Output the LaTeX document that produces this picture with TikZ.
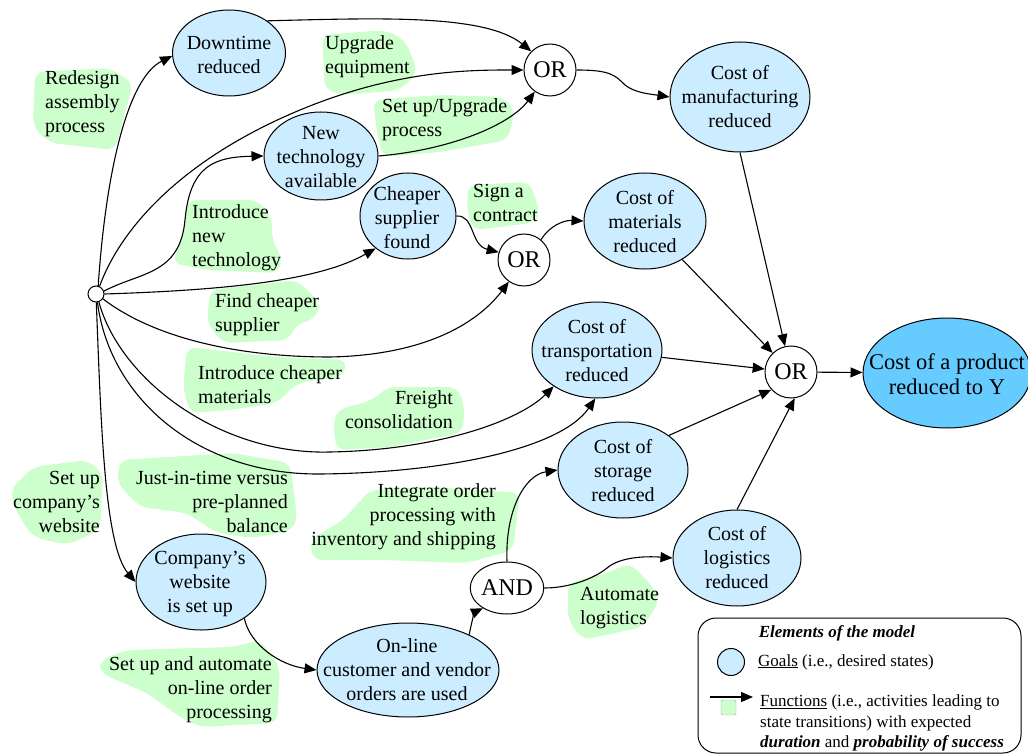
\documentclass[tikz,border=0pt]{standalone}
\usepackage{fontspec}
\setmainfont{Liberation Serif}
\usetikzlibrary{shapes.geometric,arrows.meta}
\definecolor{goalc}{HTML}{CCECFF}
\definecolor{finc}{HTML}{66CCFF}
\definecolor{blobc}{HTML}{CCFFCC}
\begin{document}
\begin{tikzpicture}[x=1pt,y=-1pt,
  goal/.style={ellipse,draw,fill=goalc,line width=1pt,inner sep=0pt},
  gate/.style={ellipse,draw,fill=white,line width=1pt,inner sep=0pt,font=\fontsize{24}{28}\selectfont},
  gt/.style={inner sep=0pt,align=center,font=\fontsize{20}{24}\selectfont},
  lblL/.style={inner sep=0pt,align=left,anchor=west,font=\fontsize{20}{24}\selectfont},
  lblR/.style={inner sep=0pt,align=right,anchor=east,font=\fontsize{20}{24}\selectfont},
  legt/.style={inner sep=0pt,align=left,anchor=west,font=\fontsize{17}{20.5}\selectfont},
  blob/.style={fill=blobc,rounded corners=9pt},
  arr/.style={line width=1.1pt,-{Triangle[length=12pt,width=10pt]}},
  conn/.style={line width=1.1pt},
]
\useasboundingbox (0,0) rectangle (1028,754);

% ---------- green blobs (functions) ----------
\fill[blob] (35,72) -- (110,68) -- (133,83) -- (115,150) -- (50,143) -- (33,127) -- cycle;
\fill[blob] (322,35) -- (385,30) -- (405,40) -- (418,72) -- (400,90) -- (345,95) -- (325,90) -- cycle;
\fill[blob] (373,100) -- (440,95) -- (503,97) -- (515,110) -- (508,140) -- (440,152) -- (383,157) -- (377,133) -- cycle;
\fill[blob] (187,200) -- (257,200) -- (272,217) -- (272,240) -- (283,260) -- (277,273) -- (207,270) -- (172,263) -- (183,237) -- cycle;
\fill[blob] (468,185) -- (530,182) -- (540,213) -- (533,223) -- (473,230) -- (467,210) -- cycle;
\fill[blob] (210,290) -- (297,280) -- (320,303) -- (317,317) -- (293,327) -- (290,340) -- (223,343) -- (207,323) -- cycle;
\fill[blob] (187,347) -- (277,357) -- (347,360) -- (343,377) -- (297,383) -- (277,403) -- (230,410) -- (190,413) -- (183,387) -- cycle;
\fill[blob] (337,410) -- (373,400) -- (387,387) -- (457,387) -- (465,407) -- (462,433) -- (390,447) -- (337,450) -- (333,427) -- cycle;
\fill[blob] (27,473) -- (33,467) -- (87,460) -- (103,473) -- (100,530) -- (67,545) -- (33,537) -- (17,513) -- (10,490) -- cycle;
\fill[blob] (120,460) -- (233,453) -- (290,463) -- (297,517) -- (293,530) -- (253,538) -- (217,533) -- (187,513) -- (140,507) -- (117,483) -- cycle;
\fill[blob] (370,490) -- (433,487) -- (520,493) -- (513,550) -- (467,563) -- (383,560) -- (313,560) -- (310,540) -- (343,520) -- cycle;
\fill[blob] (100,660) -- (127,650) -- (233,647) -- (260,640) -- (280,667) -- (277,723) -- (200,727) -- (180,717) -- (147,693) -- (100,673) -- cycle;
\fill[blob] (568,583) -- (607,573) -- (630,563) -- (653,587) -- (660,600) -- (643,627) -- (583,640) -- (568,620) -- cycle;

% ---------- function labels ----------
\node[lblL] (f1) at (45,104) {Redesign\\assembly\\process};
\node[lblL] (f2) at (325,57) {Upgrade\\equipment};
\node[lblL] (f3) at (382,120) {Set up/Upgrade\\process};
\node[lblL] (f4) at (192,238) {Introduce\\new\\technology};
\node[lblL] (f5) at (473,203) {Sign a\\contract};
\node[lblL] (f6) at (215,315) {Find cheaper\\supplier};
\node[lblL] (f7) at (198,385) {Introduce cheaper\\materials};
\node[lblR] (f8) at (453,410) {Freight\\consolidation};
\node[lblR] (f9) at (100,502) {Set up\\company’s\\website};
\node[lblR] (f10) at (288,502) {Just-in-time versus\\pre-planned\\balance};
\node[lblR] (f11) at (496,517) {Integrate order\\processing with\\inventory and shipping};
\node[lblR] (f12) at (272,690) {Set up and automate\\on-line order\\processing};
\node[lblL] (f13) at (580,608) {Automate\\logistics};

% ---------- goal nodes ----------
\node[circle,draw,fill=white,line width=1pt,minimum size=16pt,inner sep=0pt] (S) at (96,294) {};
\node[goal,minimum width=113pt,minimum height=86pt] (dt) at (229,53) {};
\node[gt] (dt-t) at (229,55) {Downtime\\reduced};
\node[gate,minimum width=52pt,minimum height=52pt] (or1) at (550,70) {OR};
\node[goal,minimum width=140pt,minimum height=110pt] (mfg) at (740,97) {};
\node[gt] (mfg-t) at (740,97) {Cost of\\manufacturing\\reduced};
\node[goal,minimum width=114pt,minimum height=88pt] (nt) at (321,156) {};
\node[gt] (nt-t) at (321,157) {New\\technology\\available};
\node[goal,minimum width=96pt,minimum height=86pt] (cs) at (408,216) {};
\node[gt] (cs-t) at (407,218) {Cheaper\\supplier\\found};
\node[gate,minimum width=52pt,minimum height=52pt] (or2) at (524,260) {OR};
\node[goal,minimum width=122pt,minimum height=96pt] (mat) at (645,221) {};
\node[gt] (mat-t) at (645,222) {Cost of\\materials\\reduced};
\node[goal,minimum width=130pt,minimum height=96pt] (tr) at (597,350) {};
\node[gt] (tr-t) at (597,351) {Cost of\\transportation\\reduced};
\node[gate,minimum width=52pt,minimum height=52pt] (or3) at (791,372) {OR};
\node[ellipse,draw,fill=finc,line width=1pt,inner sep=0pt,minimum width=168pt,minimum height=110pt] (fin) at (947,373) {};
\node[inner sep=0pt,align=center,font=\fontsize{22.5}{25}\selectfont] (fin-t) at (947,374) {Cost of a product\\reduced to Y};
\node[goal,minimum width=130pt,minimum height=96pt] (st) at (623,470) {};
\node[gt] (st-t) at (623,471) {Cost of\\storage\\reduced};
\node[goal,minimum width=128pt,minimum height=96pt] (lg) at (737,558) {};
\node[gt] (lg-t) at (737,558) {Cost of\\logistics\\reduced};
\node[gate,minimum width=70pt,minimum height=52pt] (and) at (507,588) {AND};
\node[goal,minimum width=130pt,minimum height=96pt] (cw) at (201,582) {};
\node[gt] (cw-t) at (200,584) {Company’s\\website\\is set up};
\node[goal,minimum width=182pt,minimum height=94pt] (ol) at (408,670) {};
\node[gt] (ol-t) at (407,670) {On-line\\customer and vendor\\orders are used};

% ---------- connectors ----------
\draw[arr] (S.75) .. controls (106,170) and (128,78) .. (dt.183);
\draw[arr] (dt.40) .. controls (380,18) and (485,14) .. (or1.135);
\draw[arr] (S.65) .. controls (120,230) and (180,160) .. (300,110) .. controls (396,70) and (470,70) .. (or1.180);
\draw[arr] (S.20) .. controls (140,272) and (180,275) .. (185,220) .. controls (190,165) and (215,157) .. (nt.180);
\draw[arr] (nt.east) .. controls (450,150) and (510,125) .. (or1.235);
\draw[arr] (S.0) .. controls (230,290) and (320,280) .. (cs.225);
\draw[arr] (S.-35) .. controls (150,335) and (230,357) .. (330,357) .. controls (430,355) and (480,320) .. (or2.235);
\draw[arr] (cs.0) .. controls (475,215) and (470,245) .. (or2.163);
\draw[arr] (or2.50) .. controls (550,225) and (565,220) .. (mat.180);
\draw[arr] (or1.0) .. controls (610,70) and (615,75) .. (625,85) .. controls (635,93) and (650,94) .. (mfg.180);
\draw[arr] (S.-70) .. controls (120,380) and (220,455) .. (330,452) .. controls (440,450) and (520,420) .. (tr.220);
\draw[arr] (S.-80) .. controls (110,400) and (200,475) .. (320,474) .. controls (440,473) and (560,450) .. (tr.268);
\draw[arr] (S.-88) .. controls (101,420) and (104,545) .. (cw.180);
\draw[arr] (cw.-40) .. controls (250,645) and (280,665) .. (ol.180);
\draw[arr] (ol.30) .. controls (472,620) and (475,612) .. (and.220);
\draw[arr] (and.90) .. controls (505,510) and (525,475) .. (st.180);
\draw[arr] (and.0) .. controls (570,588) and (595,578) .. (607,568) .. controls (620,557) and (645,556) .. (lg.180);
\draw[arr] (mfg.south) -- (or3);
\draw[arr] (mat) -- (or3);
\draw[arr] (tr) -- (or3);
\draw[arr] (st.37) -- (or3.222);
\draw[arr] (lg.north) -- (or3.-82);
\draw[arr] (or3) -- (fin);

% ---------- legend ----------
\draw[line width=1pt,rounded corners=18pt] (698,618) rectangle (1021,753);
\node[inner sep=0pt,font=\fontsize{17}{20.5}\selectfont\bfseries\itshape] (lg-title) at (837,633) {Elements of the model};
\node[circle,draw,fill=goalc,line width=1pt,minimum size=27pt,inner sep=0pt] (lg-goal) at (731,662) {};
\node[legt] (lg-goal-t) at (758,662) {\underline{Goals} (i.e., desired states)};
\fill[blobc,draw=black!35,rounded corners=1.5pt] (721,700) rectangle (736,715);
\coordinate (lg-a) at (710,697);
\coordinate (lg-b) at (753,697);
\draw[arr] (lg-a) -- (lg-b);
\node[legt] (lg-fun-t) at (760,723) {\underline{Functions} (i.e., activities leading to\\state transitions) with expected\\\textbf{\textit{duration}} and \textbf{\textit{probability of success}}};
\end{tikzpicture}
\end{document}
